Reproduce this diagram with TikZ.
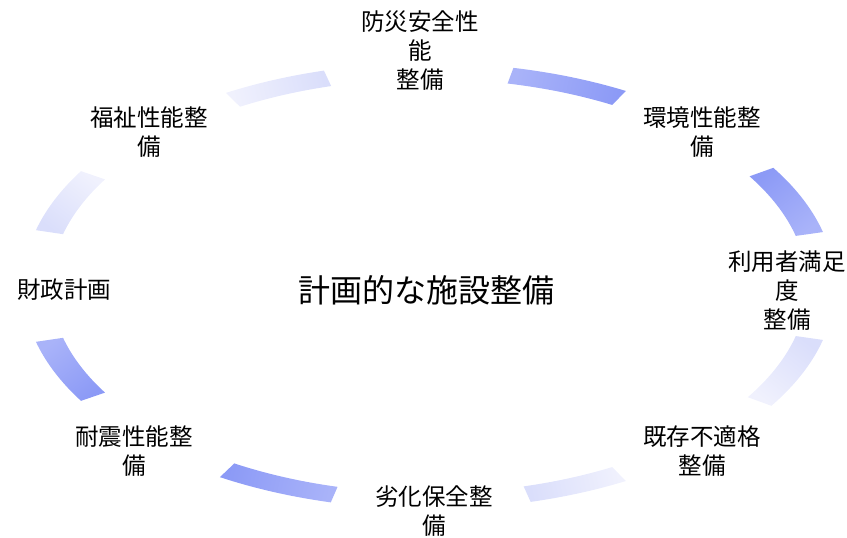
\documentclass[tikz,border=0pt]{standalone}
\usepackage{fontspec}
\newfontfamily\jpfont{Noto Sans CJK JP}
\definecolor{bA}{HTML}{8C9AF6}
\definecolor{bB}{HTML}{A9B3F9}
\definecolor{lA}{HTML}{DADEFB}
\definecolor{lB}{HTML}{F0F1FD}
\newcommand\cycband[4]{%
  \pgfmathsetmacro\bxa{392*cos(#1)}\pgfmathsetmacro\bya{215*sin(#1)}%
  \pgfmathsetmacro\bxb{392*cos(#2)}\pgfmathsetmacro\byb{215*sin(#2)}%
  \pgfmathsetmacro\shang{atan2(\bya-\byb,\bxa-\bxb)-90}%
  \shade[top color=#3, bottom color=#4, shading angle=\shang]
    plot[domain=#1:#2,samples=30] ({429+406*cos(\x)},{252+223*sin(\x)})
    -- plot[domain=#2:#1,samples=30] ({429+378*cos(\x)},{252+207*sin(\x)}) -- cycle;
}
\begin{document}
\begin{tikzpicture}[x=1pt,y=1pt,
  lbl/.style={font=\jpfont\fontsize{23.5}{29}\selectfont, align=center, inner sep=0pt, text=black},
  ctr/.style={font=\jpfont\fontsize{32}{38}\selectfont, inner sep=0pt, text=black}]
\useasboundingbox (0,0) rectangle (847,538);
% bands
\cycband{14}{32}{bB}{bA}
\cycband{61}{78}{bA}{bB}
\cycband{105}{120}{lA}{lB}
\cycband{149}{165.5}{lB}{lA}
\cycband{194.5}{211}{bB}{bA}
\cycband{239}{256}{bA}{bB}
\cycband{284.5}{299}{lA}{lB}
\cycband{327.5}{346}{lB}{lA}
% labels
\node[lbl] (n1) at (420,487) {防災安全性\\能\\整備};
\node[lbl] (n2) at (702,405.5) {環境性能整\\備};
\node[lbl] (n3) at (787,247) {利用者満足\\度\\整備};
\node[lbl] (n4) at (702,87) {既存不適格\\整備};
\node[lbl] (n5) at (434,26.5) {劣化保全整\\備};
\node[lbl] (n6) at (134,87) {耐震性能整\\備};
\node[lbl] (n7) at (64,248) {財政計画};
\node[lbl] (n8) at (149,405.5) {福祉性能整\\備};
\node[ctr] (c) at (426,248) {計画的な施設整備};
\end{tikzpicture}
\end{document}
